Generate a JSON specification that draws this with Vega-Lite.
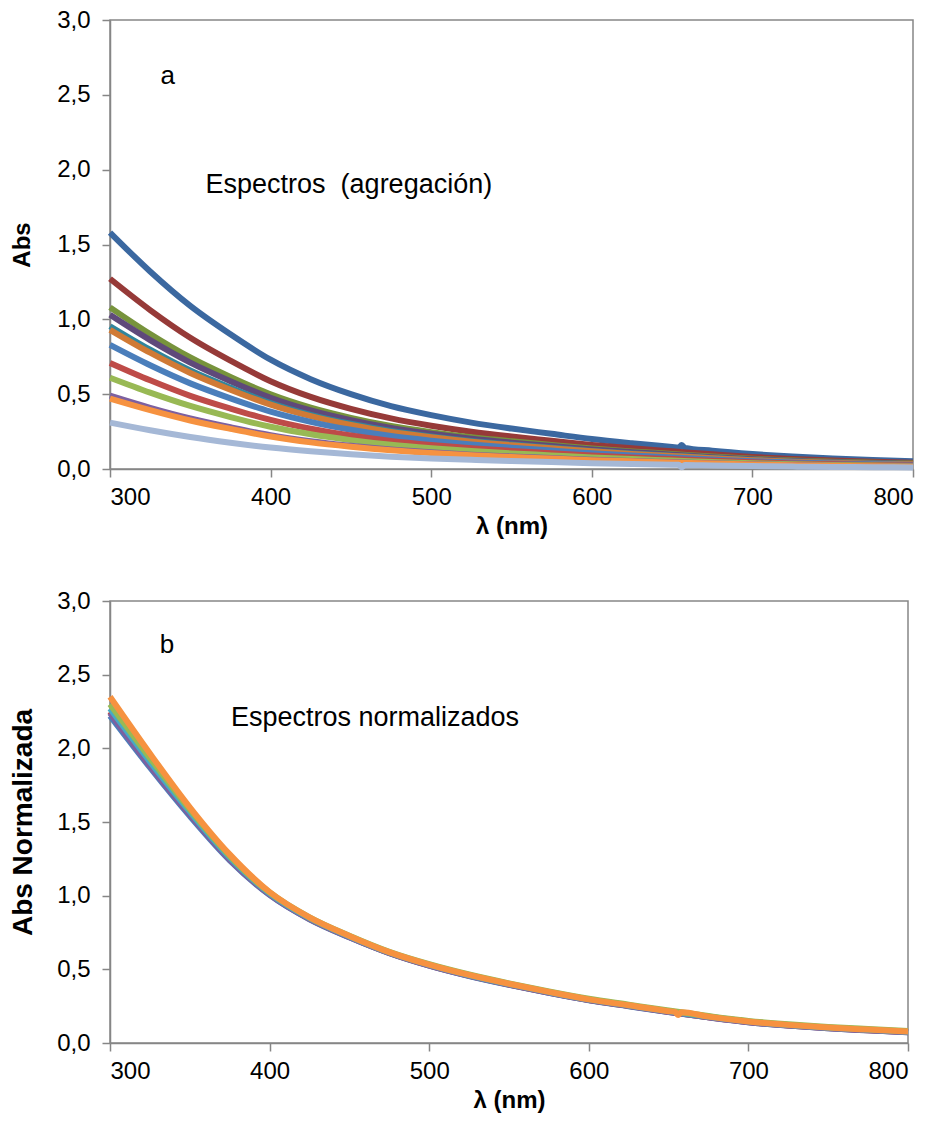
{
  "$schema": "https://vega.github.io/schema/vega-lite/v6.json",
  "background": "white",
  "padding": {"left": 8, "top": 7, "right": 5, "bottom": 5},
  "spacing": 49,
  "config": {
    "font": "Liberation Sans",
    "view": {"stroke": "#868686", "strokeWidth": 1.5},
    "axis": {"domainColor": "#868686", "domainWidth": 1.5, "tickColor": "#868686", "tickWidth": 1.5, "tickSize": 8, "grid": false, "labelFont": "Liberation Sans", "labelFontSize": 24, "labelColor": "#000000", "titleFont": "Liberation Sans", "titleFontSize": 24, "titleFontWeight": "bold", "titleColor": "#000000"}
  },
  "resolve": {"scale": {"color": "independent"}},
  "datasets": {
    "top": [
      {"s":"t1","x":300,"y":1.580},{"s":"t1","x":325,"y":1.320},{"s":"t1","x":350,"y":1.090},{"s":"t1","x":375,"y":0.900},{"s":"t1","x":400,"y":0.730},{"s":"t1","x":425,"y":0.600},{"s":"t1","x":450,"y":0.500},{"s":"t1","x":475,"y":0.420},{"s":"t1","x":500,"y":0.360},{"s":"t1","x":525,"y":0.310},{"s":"t1","x":550,"y":0.270},{"s":"t1","x":575,"y":0.235},{"s":"t1","x":600,"y":0.200},{"s":"t1","x":625,"y":0.172},{"s":"t1","x":650,"y":0.147},{"s":"t1","x":654,"y":0.143},{"s":"t1","x":656,"y":0.160},{"s":"t1","x":658,"y":0.141},{"s":"t1","x":675,"y":0.122},{"s":"t1","x":700,"y":0.100},{"s":"t1","x":725,"y":0.083},{"s":"t1","x":750,"y":0.070},{"s":"t1","x":775,"y":0.060},{"s":"t1","x":800,"y":0.052},
      {"s":"t2","x":300,"y":1.271},{"s":"t2","x":325,"y":1.062},{"s":"t2","x":350,"y":0.877},{"s":"t2","x":375,"y":0.724},{"s":"t2","x":400,"y":0.587},{"s":"t2","x":425,"y":0.482},{"s":"t2","x":450,"y":0.402},{"s":"t2","x":475,"y":0.338},{"s":"t2","x":500,"y":0.289},{"s":"t2","x":525,"y":0.249},{"s":"t2","x":550,"y":0.217},{"s":"t2","x":575,"y":0.189},{"s":"t2","x":600,"y":0.161},{"s":"t2","x":625,"y":0.138},{"s":"t2","x":650,"y":0.118},{"s":"t2","x":675,"y":0.098},{"s":"t2","x":700,"y":0.080},{"s":"t2","x":725,"y":0.067},{"s":"t2","x":750,"y":0.056},{"s":"t2","x":775,"y":0.048},{"s":"t2","x":800,"y":0.042},
      {"s":"t3","x":300,"y":1.080},{"s":"t3","x":325,"y":0.902},{"s":"t3","x":350,"y":0.745},{"s":"t3","x":375,"y":0.615},{"s":"t3","x":400,"y":0.499},{"s":"t3","x":425,"y":0.410},{"s":"t3","x":450,"y":0.342},{"s":"t3","x":475,"y":0.287},{"s":"t3","x":500,"y":0.246},{"s":"t3","x":525,"y":0.212},{"s":"t3","x":550,"y":0.185},{"s":"t3","x":575,"y":0.161},{"s":"t3","x":600,"y":0.137},{"s":"t3","x":625,"y":0.117},{"s":"t3","x":650,"y":0.101},{"s":"t3","x":675,"y":0.083},{"s":"t3","x":700,"y":0.068},{"s":"t3","x":725,"y":0.057},{"s":"t3","x":750,"y":0.048},{"s":"t3","x":775,"y":0.041},{"s":"t3","x":800,"y":0.036},
      {"s":"t4","x":300,"y":1.030},{"s":"t4","x":325,"y":0.861},{"s":"t4","x":350,"y":0.711},{"s":"t4","x":375,"y":0.587},{"s":"t4","x":400,"y":0.476},{"s":"t4","x":425,"y":0.391},{"s":"t4","x":450,"y":0.326},{"s":"t4","x":475,"y":0.274},{"s":"t4","x":500,"y":0.235},{"s":"t4","x":525,"y":0.202},{"s":"t4","x":550,"y":0.176},{"s":"t4","x":575,"y":0.153},{"s":"t4","x":600,"y":0.130},{"s":"t4","x":625,"y":0.112},{"s":"t4","x":650,"y":0.096},{"s":"t4","x":675,"y":0.079},{"s":"t4","x":700,"y":0.065},{"s":"t4","x":725,"y":0.054},{"s":"t4","x":750,"y":0.045},{"s":"t4","x":775,"y":0.039},{"s":"t4","x":800,"y":0.034},
      {"s":"t5","x":300,"y":0.954},{"s":"t5","x":325,"y":0.797},{"s":"t5","x":350,"y":0.658},{"s":"t5","x":375,"y":0.544},{"s":"t5","x":400,"y":0.441},{"s":"t5","x":425,"y":0.362},{"s":"t5","x":450,"y":0.302},{"s":"t5","x":475,"y":0.254},{"s":"t5","x":500,"y":0.217},{"s":"t5","x":525,"y":0.187},{"s":"t5","x":550,"y":0.163},{"s":"t5","x":575,"y":0.142},{"s":"t5","x":600,"y":0.121},{"s":"t5","x":625,"y":0.104},{"s":"t5","x":650,"y":0.089},{"s":"t5","x":675,"y":0.074},{"s":"t5","x":700,"y":0.060},{"s":"t5","x":725,"y":0.050},{"s":"t5","x":750,"y":0.042},{"s":"t5","x":775,"y":0.036},{"s":"t5","x":800,"y":0.031},
      {"s":"t6","x":300,"y":0.930},{"s":"t6","x":325,"y":0.777},{"s":"t6","x":350,"y":0.642},{"s":"t6","x":375,"y":0.530},{"s":"t6","x":400,"y":0.430},{"s":"t6","x":425,"y":0.353},{"s":"t6","x":450,"y":0.294},{"s":"t6","x":475,"y":0.247},{"s":"t6","x":500,"y":0.212},{"s":"t6","x":525,"y":0.182},{"s":"t6","x":550,"y":0.159},{"s":"t6","x":575,"y":0.138},{"s":"t6","x":600,"y":0.118},{"s":"t6","x":625,"y":0.101},{"s":"t6","x":650,"y":0.087},{"s":"t6","x":675,"y":0.072},{"s":"t6","x":700,"y":0.059},{"s":"t6","x":725,"y":0.049},{"s":"t6","x":750,"y":0.041},{"s":"t6","x":775,"y":0.035},{"s":"t6","x":800,"y":0.031},
      {"s":"t7","x":300,"y":0.829},{"s":"t7","x":325,"y":0.693},{"s":"t7","x":350,"y":0.572},{"s":"t7","x":375,"y":0.472},{"s":"t7","x":400,"y":0.383},{"s":"t7","x":425,"y":0.315},{"s":"t7","x":450,"y":0.262},{"s":"t7","x":475,"y":0.220},{"s":"t7","x":500,"y":0.189},{"s":"t7","x":525,"y":0.163},{"s":"t7","x":550,"y":0.142},{"s":"t7","x":575,"y":0.123},{"s":"t7","x":600,"y":0.105},{"s":"t7","x":625,"y":0.090},{"s":"t7","x":650,"y":0.077},{"s":"t7","x":675,"y":0.064},{"s":"t7","x":700,"y":0.052},{"s":"t7","x":725,"y":0.043},{"s":"t7","x":750,"y":0.037},{"s":"t7","x":775,"y":0.032},{"s":"t7","x":800,"y":0.027},
      {"s":"t8","x":300,"y":0.709},{"s":"t8","x":325,"y":0.593},{"s":"t8","x":350,"y":0.489},{"s":"t8","x":375,"y":0.404},{"s":"t8","x":400,"y":0.328},{"s":"t8","x":425,"y":0.269},{"s":"t8","x":450,"y":0.224},{"s":"t8","x":475,"y":0.188},{"s":"t8","x":500,"y":0.161},{"s":"t8","x":525,"y":0.139},{"s":"t8","x":550,"y":0.121},{"s":"t8","x":575,"y":0.106},{"s":"t8","x":600,"y":0.090},{"s":"t8","x":625,"y":0.077},{"s":"t8","x":650,"y":0.066},{"s":"t8","x":675,"y":0.055},{"s":"t8","x":700,"y":0.045},{"s":"t8","x":725,"y":0.037},{"s":"t8","x":750,"y":0.031},{"s":"t8","x":775,"y":0.027},{"s":"t8","x":800,"y":0.023},
      {"s":"t9","x":300,"y":0.610},{"s":"t9","x":325,"y":0.510},{"s":"t9","x":350,"y":0.421},{"s":"t9","x":375,"y":0.347},{"s":"t9","x":400,"y":0.282},{"s":"t9","x":425,"y":0.232},{"s":"t9","x":450,"y":0.193},{"s":"t9","x":475,"y":0.162},{"s":"t9","x":500,"y":0.139},{"s":"t9","x":525,"y":0.120},{"s":"t9","x":550,"y":0.104},{"s":"t9","x":575,"y":0.091},{"s":"t9","x":600,"y":0.077},{"s":"t9","x":625,"y":0.066},{"s":"t9","x":650,"y":0.057},{"s":"t9","x":675,"y":0.047},{"s":"t9","x":700,"y":0.039},{"s":"t9","x":725,"y":0.032},{"s":"t9","x":750,"y":0.027},{"s":"t9","x":775,"y":0.023},{"s":"t9","x":800,"y":0.020},
      {"s":"t10","x":300,"y":0.490},{"s":"t10","x":325,"y":0.409},{"s":"t10","x":350,"y":0.338},{"s":"t10","x":375,"y":0.279},{"s":"t10","x":400,"y":0.226},{"s":"t10","x":425,"y":0.186},{"s":"t10","x":450,"y":0.155},{"s":"t10","x":475,"y":0.130},{"s":"t10","x":500,"y":0.112},{"s":"t10","x":525,"y":0.096},{"s":"t10","x":550,"y":0.084},{"s":"t10","x":575,"y":0.073},{"s":"t10","x":600,"y":0.062},{"s":"t10","x":625,"y":0.053},{"s":"t10","x":650,"y":0.046},{"s":"t10","x":675,"y":0.038},{"s":"t10","x":700,"y":0.031},{"s":"t10","x":725,"y":0.026},{"s":"t10","x":750,"y":0.022},{"s":"t10","x":775,"y":0.019},{"s":"t10","x":800,"y":0.016},
      {"s":"t11","x":300,"y":0.470},{"s":"t11","x":325,"y":0.393},{"s":"t11","x":350,"y":0.324},{"s":"t11","x":375,"y":0.268},{"s":"t11","x":400,"y":0.217},{"s":"t11","x":425,"y":0.178},{"s":"t11","x":450,"y":0.149},{"s":"t11","x":475,"y":0.125},{"s":"t11","x":500,"y":0.107},{"s":"t11","x":525,"y":0.092},{"s":"t11","x":550,"y":0.080},{"s":"t11","x":575,"y":0.070},{"s":"t11","x":600,"y":0.059},{"s":"t11","x":625,"y":0.051},{"s":"t11","x":650,"y":0.044},{"s":"t11","x":675,"y":0.036},{"s":"t11","x":700,"y":0.030},{"s":"t11","x":725,"y":0.025},{"s":"t11","x":750,"y":0.021},{"s":"t11","x":775,"y":0.018},{"s":"t11","x":800,"y":0.015},
      {"s":"t12","x":300,"y":0.310},{"s":"t12","x":325,"y":0.259},{"s":"t12","x":350,"y":0.214},{"s":"t12","x":375,"y":0.176},{"s":"t12","x":400,"y":0.143},{"s":"t12","x":425,"y":0.118},{"s":"t12","x":450,"y":0.098},{"s":"t12","x":475,"y":0.082},{"s":"t12","x":500,"y":0.070},{"s":"t12","x":525,"y":0.061},{"s":"t12","x":550,"y":0.053},{"s":"t12","x":575,"y":0.046},{"s":"t12","x":600,"y":0.039},{"s":"t12","x":625,"y":0.034},{"s":"t12","x":650,"y":0.029},{"s":"t12","x":654,"y":0.028},{"s":"t12","x":656,"y":0.012},{"s":"t12","x":658,"y":0.027},{"s":"t12","x":675,"y":0.024},{"s":"t12","x":700,"y":0.020},{"s":"t12","x":725,"y":0.016},{"s":"t12","x":750,"y":0.014},{"s":"t12","x":775,"y":0.012},{"s":"t12","x":800,"y":0.010}
    ],
    "bottom": [
      {"s":"b1","x":300,"y":2.22},{"s":"b1","x":325,"y":1.87},{"s":"b1","x":350,"y":1.54},{"s":"b1","x":375,"y":1.24},{"s":"b1","x":400,"y":1.005},{"s":"b1","x":425,"y":0.84},{"s":"b1","x":450,"y":0.717},{"s":"b1","x":475,"y":0.61},{"s":"b1","x":500,"y":0.525},{"s":"b1","x":525,"y":0.455},{"s":"b1","x":550,"y":0.395},{"s":"b1","x":575,"y":0.34},{"s":"b1","x":600,"y":0.29},{"s":"b1","x":625,"y":0.25},{"s":"b1","x":650,"y":0.21},{"s":"b1","x":675,"y":0.174},{"s":"b1","x":700,"y":0.141},{"s":"b1","x":725,"y":0.118},{"s":"b1","x":750,"y":0.10},{"s":"b1","x":775,"y":0.086},{"s":"b1","x":800,"y":0.073},
      {"s":"b2","x":300,"y":2.25},{"s":"b2","x":325,"y":1.89},{"s":"b2","x":350,"y":1.555},{"s":"b2","x":375,"y":1.25},{"s":"b2","x":400,"y":1.01},{"s":"b2","x":425,"y":0.843},{"s":"b2","x":450,"y":0.72},{"s":"b2","x":475,"y":0.612},{"s":"b2","x":500,"y":0.527},{"s":"b2","x":525,"y":0.457},{"s":"b2","x":550,"y":0.397},{"s":"b2","x":575,"y":0.342},{"s":"b2","x":600,"y":0.292},{"s":"b2","x":625,"y":0.252},{"s":"b2","x":650,"y":0.212},{"s":"b2","x":675,"y":0.175},{"s":"b2","x":700,"y":0.142},{"s":"b2","x":725,"y":0.119},{"s":"b2","x":750,"y":0.101},{"s":"b2","x":775,"y":0.087},{"s":"b2","x":800,"y":0.074},
      {"s":"b3","x":300,"y":2.24},{"s":"b3","x":325,"y":1.88},{"s":"b3","x":350,"y":1.55},{"s":"b3","x":375,"y":1.245},{"s":"b3","x":400,"y":1.008},{"s":"b3","x":425,"y":0.842},{"s":"b3","x":450,"y":0.718},{"s":"b3","x":475,"y":0.611},{"s":"b3","x":500,"y":0.526},{"s":"b3","x":525,"y":0.456},{"s":"b3","x":550,"y":0.396},{"s":"b3","x":575,"y":0.341},{"s":"b3","x":600,"y":0.291},{"s":"b3","x":625,"y":0.251},{"s":"b3","x":650,"y":0.211},{"s":"b3","x":675,"y":0.174},{"s":"b3","x":700,"y":0.141},{"s":"b3","x":725,"y":0.118},{"s":"b3","x":750,"y":0.10},{"s":"b3","x":775,"y":0.086},{"s":"b3","x":800,"y":0.073},
      {"s":"b4","x":300,"y":2.27},{"s":"b4","x":325,"y":1.91},{"s":"b4","x":350,"y":1.57},{"s":"b4","x":375,"y":1.26},{"s":"b4","x":400,"y":1.015},{"s":"b4","x":425,"y":0.847},{"s":"b4","x":450,"y":0.723},{"s":"b4","x":475,"y":0.614},{"s":"b4","x":500,"y":0.53},{"s":"b4","x":525,"y":0.46},{"s":"b4","x":550,"y":0.40},{"s":"b4","x":575,"y":0.345},{"s":"b4","x":600,"y":0.295},{"s":"b4","x":625,"y":0.255},{"s":"b4","x":650,"y":0.215},{"s":"b4","x":675,"y":0.178},{"s":"b4","x":700,"y":0.145},{"s":"b4","x":725,"y":0.122},{"s":"b4","x":750,"y":0.104},{"s":"b4","x":775,"y":0.09},{"s":"b4","x":800,"y":0.077},
      {"s":"b5","x":300,"y":2.30},{"s":"b5","x":325,"y":1.935},{"s":"b5","x":350,"y":1.585},{"s":"b5","x":375,"y":1.27},{"s":"b5","x":400,"y":1.022},{"s":"b5","x":425,"y":0.853},{"s":"b5","x":450,"y":0.728},{"s":"b5","x":475,"y":0.619},{"s":"b5","x":500,"y":0.535},{"s":"b5","x":525,"y":0.465},{"s":"b5","x":550,"y":0.405},{"s":"b5","x":575,"y":0.35},{"s":"b5","x":600,"y":0.30},{"s":"b5","x":625,"y":0.26},{"s":"b5","x":650,"y":0.22},{"s":"b5","x":675,"y":0.183},{"s":"b5","x":700,"y":0.15},{"s":"b5","x":725,"y":0.127},{"s":"b5","x":750,"y":0.109},{"s":"b5","x":775,"y":0.095},{"s":"b5","x":800,"y":0.082},
      {"s":"b6","x":300,"y":2.35},{"s":"b6","x":325,"y":1.965},{"s":"b6","x":350,"y":1.60},{"s":"b6","x":375,"y":1.28},{"s":"b6","x":400,"y":1.025},{"s":"b6","x":425,"y":0.853},{"s":"b6","x":450,"y":0.727},{"s":"b6","x":475,"y":0.617},{"s":"b6","x":500,"y":0.532},{"s":"b6","x":525,"y":0.462},{"s":"b6","x":550,"y":0.402},{"s":"b6","x":575,"y":0.347},{"s":"b6","x":600,"y":0.296},{"s":"b6","x":625,"y":0.256},{"s":"b6","x":650,"y":0.216},{"s":"b6","x":654,"y":0.211},{"s":"b6","x":656,"y":0.19},{"s":"b6","x":658,"y":0.208},{"s":"b6","x":675,"y":0.179},{"s":"b6","x":700,"y":0.146},{"s":"b6","x":725,"y":0.123},{"s":"b6","x":750,"y":0.105},{"s":"b6","x":775,"y":0.091},{"s":"b6","x":800,"y":0.078}
    ]
  },
  "vconcat": [
    {
      "width": 803,
      "height": 449,
      "layer": [
        {
          "data": {"name": "top"},
          "mark": {"type": "line", "strokeWidth": 6, "interpolate": "monotone"},
          "encoding": {
            "x": {"field": "x", "type": "quantitative", "scale": {"domain": [300, 800], "nice": false}, "axis": {"values": [300, 400, 500, 600, 700, 800], "title": "λ (nm)", "labelPadding": 8, "titlePadding": 5}},
            "y": {"field": "y", "type": "quantitative", "scale": {"domain": [0, 3], "nice": false}, "axis": {"values": [0, 0.5, 1, 1.5, 2, 2.5, 3], "labelExpr": "replace(format(datum.value, '.1f'), '.', ',')", "title": "Abs", "labelPadding": 12, "titlePadding": 22}},
            "color": {"field": "s", "type": "nominal", "legend": null, "scale": {"domain": ["t1","t2","t3","t4","t5","t6","t7","t8","t9","t10","t11","t12"], "range": ["#3B68A0","#963A38","#77933C","#5F497A","#31859C","#D07A35","#4A7EBB","#BE4B48","#98B954","#7D60A0","#F69240","#A5B8D6"]}}
          }
        },
        {
          "data": {"values": [{}]},
          "mark": {"type": "text", "fontSize": 26, "font": "Liberation Sans", "align": "center", "baseline": "alphabetic", "color": "#000000"},
          "encoding": {"x": {"datum": 336, "type": "quantitative"}, "y": {"datum": 2.57, "type": "quantitative"}, "text": {"value": "a"}}
        },
        {
          "data": {"values": [{}]},
          "mark": {"type": "text", "fontSize": 27, "font": "Liberation Sans", "align": "left", "baseline": "alphabetic", "color": "#000000"},
          "encoding": {"x": {"datum": 359.5, "type": "quantitative"}, "y": {"datum": 1.842, "type": "quantitative"}, "text": {"value": "Espectros \u00a0(agregación)"}}
        }
      ]
    },
    {
      "width": 798,
      "height": 442,
      "layer": [
        {
          "data": {"name": "bottom"},
          "mark": {"type": "line", "strokeWidth": 6, "interpolate": "monotone"},
          "encoding": {
            "x": {"field": "x", "type": "quantitative", "scale": {"domain": [300, 800], "nice": false}, "axis": {"values": [300, 400, 500, 600, 700, 800], "title": "λ (nm)", "labelPadding": 8, "titlePadding": 5}},
            "y": {"field": "y", "type": "quantitative", "scale": {"domain": [0, 3], "nice": false}, "axis": {"values": [0, 0.5, 1, 1.5, 2, 2.5, 3], "labelExpr": "replace(format(datum.value, '.1f'), '.', ',')", "title": "Abs Normalizada", "titleFontSize": 28, "labelPadding": 12, "titlePadding": 19}},
            "color": {"field": "s", "type": "nominal", "legend": null, "scale": {"domain": ["b1","b2","b3","b4","b5","b6"], "range": ["#4A7EBB","#BE4B48","#7D60A0","#46AAC5","#98B954","#F69240"]}}
          }
        },
        {
          "data": {"values": [{}]},
          "mark": {"type": "text", "fontSize": 26, "font": "Liberation Sans", "align": "center", "baseline": "alphabetic", "color": "#000000"},
          "encoding": {"x": {"datum": 335.7, "type": "quantitative"}, "y": {"datum": 2.65, "type": "quantitative"}, "text": {"value": "b"}}
        },
        {
          "data": {"values": [{}]},
          "mark": {"type": "text", "fontSize": 27, "font": "Liberation Sans", "align": "left", "baseline": "alphabetic", "color": "#000000"},
          "encoding": {"x": {"datum": 375.8, "type": "quantitative"}, "y": {"datum": 2.15, "type": "quantitative"}, "text": {"value": "Espectros normalizados"}}
        }
      ]
    }
  ]
}
